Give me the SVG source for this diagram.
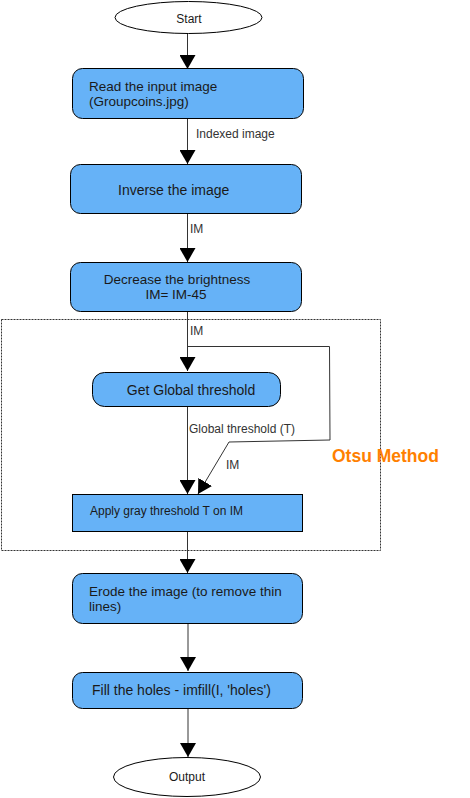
<svg xmlns="http://www.w3.org/2000/svg" width="470" height="798" viewBox="0 0 470 798">
<style>
.box{fill:#66B2F7;stroke:#000;stroke-width:1}
.term{fill:#fff;stroke:#000;stroke-width:1}
.t{font-family:"Liberation Sans",Arial,sans-serif;font-size:14px;fill:#1a1a1a}
.m{font-family:"Liberation Sans",Arial,sans-serif;font-size:13.5px;fill:#1a1a1a}
.s{font-family:"Liberation Sans",Arial,sans-serif;font-size:12px;fill:#1a1a1a}
.lbl{font-family:"Liberation Sans",Arial,sans-serif;font-size:12px;fill:#333}
.c{fill:none;stroke:#333;stroke-width:1}
</style>
<defs>
<marker id="ah" markerUnits="userSpaceOnUse" markerWidth="16" markerHeight="16" viewBox="0 0 16 16" refX="14" refY="8" orient="auto">
<path d="M0,0 L14,8 L0,16 Z" fill="#000"/>
</marker>
</defs>
<rect x="1.5" y="319.5" width="379" height="231" fill="none" stroke="#333" stroke-width="1" stroke-dasharray="2,1"/>
<text x="332" y="462" font-family="Liberation Sans,Arial,sans-serif" font-size="17.5" font-weight="bold" fill="#FF8000">Otsu Method</text>
<g id="connectors">
<line class="c" x1="187.5" y1="33" x2="187.5" y2="69" marker-end="url(#ah)"/>
<line class="c" x1="187.5" y1="118" x2="187.5" y2="164" marker-end="url(#ah)"/>
<text class="lbl" x="196" y="138">Indexed image</text>
<line class="c" x1="187.5" y1="213" x2="187.5" y2="262" marker-end="url(#ah)"/>
<text class="lbl" x="190" y="233">IM</text>
<line class="c" x1="187.5" y1="311" x2="187.5" y2="371" marker-end="url(#ah)"/>
<text class="lbl" x="190" y="335">IM</text>
<polyline class="c" points="187.5,346.5 329.5,346.5 330,440 229,442 198,494" marker-end="url(#ah)"/>
<text class="lbl" x="226" y="469">IM</text>
<line class="c" x1="187.5" y1="407" x2="187.5" y2="494" marker-end="url(#ah)"/>
<text class="lbl" x="189" y="433">Global threshold (T)</text>
<line class="c" x1="187.5" y1="531" x2="187.5" y2="573" marker-end="url(#ah)"/>
<line class="c" x1="188" y1="623" x2="188" y2="671" marker-end="url(#ah)"/>
<line class="c" x1="188" y1="708" x2="188" y2="757" marker-end="url(#ah)"/>
</g>
<g id="start">
<ellipse class="term" cx="188.5" cy="17.5" rx="73.5" ry="16"/>
<text class="s" x="189" y="23" text-anchor="middle">Start</text>
</g>
<g id="read">
<rect class="box" x="72.5" y="68.5" width="231" height="50" rx="10"/>
<text class="m" x="89" y="91">Read the input image</text>
<text class="m" x="89" y="106">(Groupcoins.jpg)</text>
</g>
<g id="inverse">
<rect class="box" x="70.5" y="164.5" width="231" height="49" rx="10"/>
<text class="t" x="118" y="195">Inverse the image</text>
</g>
<g id="decrease">
<rect class="box" x="70.5" y="262.5" width="231" height="49" rx="10"/>
<text class="m" x="177" y="284" text-anchor="middle">Decrease the brightness</text>
<text class="m" x="176" y="299" text-anchor="middle">IM= IM-45</text>
</g>
<g id="global">
<rect class="box" x="92.5" y="372.5" width="188" height="34" rx="12"/>
<text class="t" x="191" y="395" text-anchor="middle">Get Global threshold</text>
</g>
<g id="apply">
<rect class="box" x="72.5" y="494.5" width="230" height="37"/>
<text class="s" x="90" y="515">Apply gray threshold T on IM</text>
</g>
<g id="erode">
<rect class="box" x="72.5" y="573.5" width="230" height="50" rx="10"/>
<text class="m" x="89" y="596">Erode the image (to remove thin</text>
<text class="m" x="89" y="611">lines)</text>
</g>
<g id="fill">
<rect class="box" x="72.5" y="672.5" width="230" height="36" rx="10"/>
<text class="t" x="92" y="695">Fill the holes - imfill(I, 'holes')</text>
</g>
<g id="output">
<ellipse class="term" cx="187" cy="777" rx="73.5" ry="19.5"/>
<text class="s" x="187" y="781" text-anchor="middle">Output</text>
</g>
</svg>
